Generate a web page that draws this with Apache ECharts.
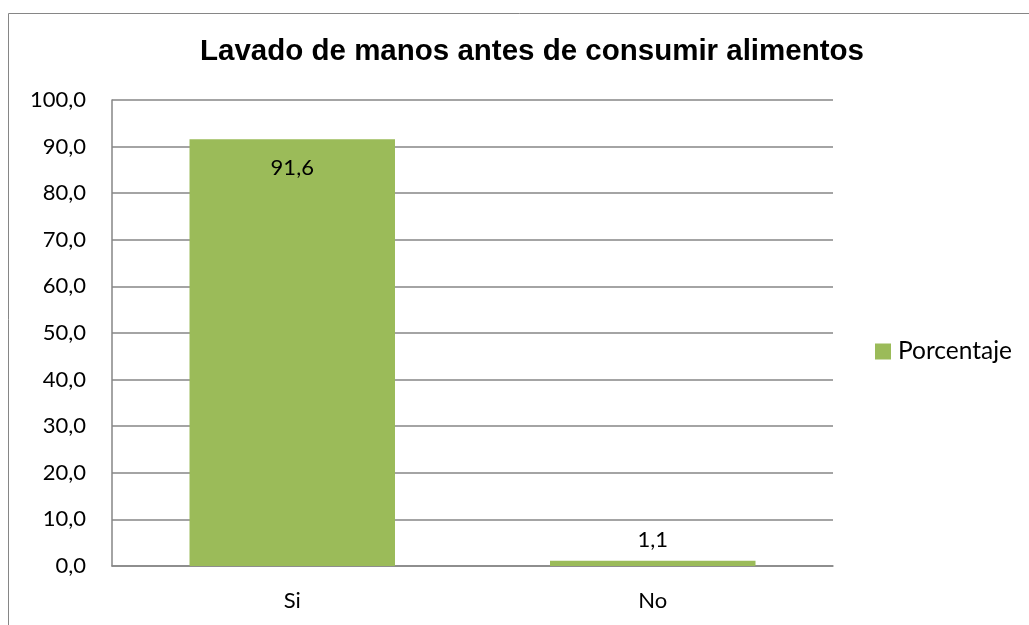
<!DOCTYPE html>
<html>
<head>
<meta charset="utf-8">
<script src="https://cdn.jsdelivr.net/npm/echarts@6/dist/echarts.min.js"></script>
<style>
html,body{margin:0;padding:0;background:#fff;}
#c{width:1029px;height:625px;}
</style>
</head>
<body>
<div id="c"></div>
<script>
const titleText = 'Lavado de manos antes de consumir alimentos';
const categories = ['Si', 'No'];
const seriesName = 'Porcentaje';
const values = [91.6, 1.1];
const yMin = 0, yMax = 100, yStep = 10;

const fmt = v => v.toFixed(1).replace('.', ',');
const chart = echarts.init(document.getElementById('c'), null, {renderer: 'canvas'});
const font = 'Lato, "Open Sans", sans-serif';
chart.setOption({
  animation: false,
  graphic: [{
    type: 'rect', silent: true,
    shape: {x: 8.5, y: 13.5, width: 1100, height: 700},
    style: {fill: 'none', stroke: '#868686', lineWidth: 1}
  }],
  title: {
    text: titleText, left: 527, textAlign: 'center', top: 32,
    textStyle: {fontFamily: '"Liberation Sans", Arial, sans-serif', fontWeight: 'bold', fontSize: 29.5, color: '#000'}
  },
  legend: {
    data: [seriesName], left: 875, top: 339, padding: 0, icon: 'rect', itemWidth: 16, itemHeight: 16, itemGap: 6,
    textStyle: {fontFamily: font, fontSize: 24.5, color: '#000', padding: [0, 0, 0, 2]}
  },
  grid: {left: 112, right: 196, top: 100, bottom: 59, containLabel: false},
  xAxis: {
    type: 'category', data: categories,
    axisLine: {lineStyle: {color: '#868686', width: 1.5}},
    axisTick: {show: false},
    axisLabel: {fontFamily: font, fontSize: 22, color: '#000', margin: 24}
  },
  yAxis: {
    type: 'value', min: yMin, max: yMax, interval: yStep,
    axisLine: {show: true, lineStyle: {color: '#868686', width: 1.5}},
    axisTick: {show: false},
    splitLine: {lineStyle: {color: '#868686', width: 1.5}},
    axisLabel: {fontFamily: font, fontSize: 22, color: '#000', margin: 26, formatter: v => fmt(v)}
  },
  series: [{
    name: seriesName, type: 'bar', barWidth: '57%',
    itemStyle: {color: '#9BBB59'},
    label: {
      show: true, fontFamily: font, fontSize: 22, color: '#000',
      position: 'top', distance: 10,
      formatter: p => fmt(p.value)
    },
    data: [
      {value: values[0], label: {position: 'insideTop', distance: 18}},
      {value: values[1]}
    ]
  }]
});
</script>
</body>
</html>
